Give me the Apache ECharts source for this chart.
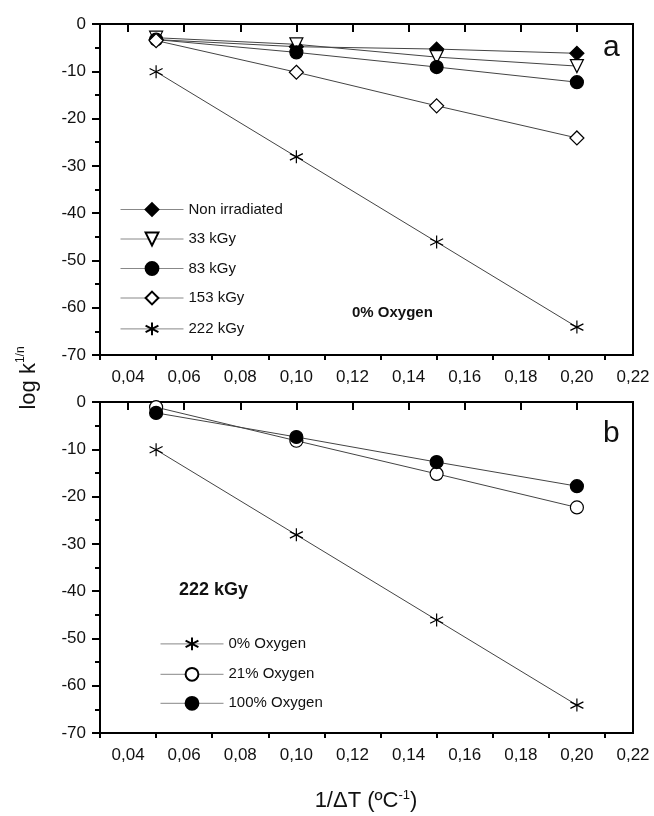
<!DOCTYPE html>
<html>
<head>
<meta charset="utf-8">
<script src="https://cdn.jsdelivr.net/npm/echarts@6/dist/echarts.min.js"></script>
<style>
  html, body { margin: 0; padding: 0; background: #fff; }
  #container { width: 654px; height: 816px; }
</style>
</head>
<body>
<div id="container"></div>
<script>
// x positions (1/dT)
let xValues = [0.05, 0.10, 0.15, 0.20];

// panel a: 0% oxygen, dose series
let nonIrradiated = [-3.3, -4.8, -5.3, -6.2];
let kGy33 = [-2.9, -4.3, -7.0, -8.9];
let kGy83 = [-3.3, -6.0, -9.1, -12.3];
let kGy153 = [-3.5, -10.2, -17.3, -24.1];
let kGy222 = [-10.1, -28.1, -46.1, -64.1];

// panel b: 222 kGy, oxygen series
let oxygen0 = [-10.1, -28.1, -46.1, -64.1];
let oxygen21 = [-1.1, -8.2, -15.2, -22.3];
let oxygen100 = [-2.3, -7.4, -12.7, -17.8];

// tick positions
let majorTicks = [0.04, 0.06, 0.08, 0.10, 0.12, 0.14, 0.16, 0.18, 0.20, 0.22];
let minorTicks = [0.03, 0.05, 0.07, 0.09, 0.11, 0.13, 0.15, 0.17, 0.19, 0.21];

const FONT = 'Liberation Sans, Arial, sans-serif';
const star = 'path://M5,0 L5,10 M0.7,2.5 L9.3,7.5 M0.7,7.5 L9.3,2.5';
const triDown = 'path://M0,0 L10,0 L5,9 Z';

function pts(vals) {
    return xValues.map((x, i) => [x, vals[i]]);
}

function mkSeries(name, vals, grid, symbol, fill, size) {
    return {
        name: name,
        type: 'line',
        xAxisIndex: grid * 2,
        yAxisIndex: grid,
        data: pts(vals),
        symbol: symbol,
        symbolSize: size || 13,
        showAllSymbol: true,
        lineStyle: { color: '#444', width: 1 },
        itemStyle: { color: fill, borderColor: '#000', borderWidth: 1.2 },
        emphasis: { disabled: true },
        z: 3
    };
}

function xAxes(grid) {
    return [{
        type: 'value', gridIndex: grid, min: 0.03, max: 0.22, position: 'bottom',
        axisLine: { show: true, lineStyle: { color: '#000', width: 2 } },
        axisTick: { show: true, inside: false, length: 8, customValues: majorTicks, lineStyle: { color: '#000', width: 2 } },
        axisLabel: {
            show: true, customValues: majorTicks, margin: 14,
            color: '#111', fontSize: 17, fontFamily: FONT,
            formatter: (v) => v.toFixed(2).replace('.', ',')
        },
        splitLine: { show: false }
    }, {
        type: 'value', gridIndex: grid, min: 0.03, max: 0.22, position: 'bottom',
        axisLine: { show: false },
        axisTick: { show: true, inside: false, length: 5, customValues: minorTicks, lineStyle: { color: '#000', width: 2 } },
        axisLabel: { show: false },
        splitLine: { show: false }
    }];
}

function yAxis(grid) {
    return {
        type: 'value', gridIndex: grid, min: -70, max: 0, interval: 10,
        axisLine: { show: true, lineStyle: { color: '#000', width: 2 } },
        axisTick: { show: true, length: 8, lineStyle: { color: '#000', width: 2 } },
        minorTick: { show: true, splitNumber: 2, length: 5, lineStyle: { color: '#000', width: 2 } },
        axisLabel: { margin: 14, color: '#111', fontSize: 17, fontFamily: FONT },
        splitLine: { show: false }
    };
}

let chart = echarts.init(document.getElementById('container'));

chart.setOption({
    animation: false,
    backgroundColor: '#fff',
    grid: [
        { left: 100, top: 24, width: 533, height: 331, show: true, borderColor: '#000', borderWidth: 2 },
        { left: 100, top: 402, width: 533, height: 331, show: true, borderColor: '#000', borderWidth: 2 }
    ],
    xAxis: xAxes(0).concat(xAxes(1)),
    yAxis: [yAxis(0), yAxis(1)],
    legend: [{
        orient: 'vertical', left: 115, top: 197,
        itemWidth: 63, itemHeight: 16, itemGap: 14.5,
        lineStyle: { color: '#888', width: 1 },
        textStyle: { fontSize: 15, fontFamily: FONT, color: '#111' },
        data: ['Non irradiated', '33 kGy', '83 kGy', '153 kGy', '222 kGy']
    }, {
        orient: 'vertical', left: 155, top: 630,
        itemWidth: 63, itemHeight: 16, itemGap: 14,
        lineStyle: { color: '#888', width: 1 },
        textStyle: { fontSize: 15, fontFamily: FONT, color: '#111' },
        data: ['0% Oxygen', '21% Oxygen', '100% Oxygen']
    }],
    graphic: [
        { type: 'text', left: 603, top: 33, style: { text: 'a', font: '30px ' + FONT, fill: '#111' } },
        { type: 'text', left: 603, top: 419, style: { text: 'b', font: '30px ' + FONT, fill: '#111' } },
        { type: 'text', left: 352, top: 305, style: { text: '0% Oxygen', font: 'bold 15px ' + FONT, fill: '#111' } },
        { type: 'text', left: 179, top: 581, style: { text: '222 kGy', font: 'bold 18px ' + FONT, fill: '#111' } },
        {
            type: 'text', x: 27, y: 378, rotation: Math.PI / 2,
            style: {
                text: '{a|log k}{b|1/n}', align: 'center', verticalAlign: 'middle',
                rich: {
                    a: { fontSize: 22, fontFamily: FONT, fill: '#111', verticalAlign: 'bottom' },
                    b: { fontSize: 12, fontFamily: FONT, fill: '#111', verticalAlign: 'top', padding: [0, 0, 13, 0] }
                }
            }
        },
        {
            type: 'text', x: 366, y: 801,
            style: {
                text: '{a|1/\u0394T (\u00baC}{b|-1}{a|)}', align: 'center', verticalAlign: 'middle',
                rich: {
                    a: { fontSize: 22, fontFamily: FONT, fill: '#111' },
                    b: { fontSize: 13, fontFamily: FONT, fill: '#111', padding: [0, 0, 12, 0] }
                }
            }
        }
    ],
    series: [
        mkSeries('Non irradiated', nonIrradiated, 0, 'diamond', '#000', 14),
        mkSeries('33 kGy', kGy33, 0, triDown, '#fff', 13),
        mkSeries('83 kGy', kGy83, 0, 'circle', '#000', 13),
        mkSeries('153 kGy', kGy153, 0, 'diamond', '#fff', 14),
        mkSeries('222 kGy', kGy222, 0, star, 'none', 13),
        mkSeries('0% Oxygen', oxygen0, 1, star, 'none', 13),
        mkSeries('21% Oxygen', oxygen21, 1, 'circle', '#fff', 13),
        mkSeries('100% Oxygen', oxygen100, 1, 'circle', '#000', 13)
    ]
});
</script>
</body>
</html>
